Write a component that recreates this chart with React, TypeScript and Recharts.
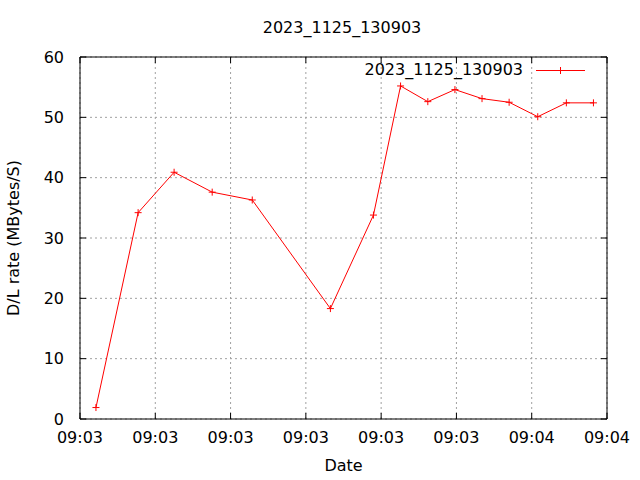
import React from 'react';
import { LineChart, Line, XAxis, YAxis, CartesianGrid } from 'recharts';

const seriesName = '2023_1125_130903';
const chartTitle = '2023_1125_130903';
const xLabel = 'Date';
const yLabel = 'D/L rate (MBytes/S)';
// seconds after 09:03:30
const startSeconds = 9 * 3600 + 3 * 60 + 30;
const timeOffsets = [1.06, 3.86, 6.25, 8.78, 11.44, 16.63, 19.49, 21.29, 23.1, 24.9, 26.7, 28.5, 30.4, 32.3, 34.1];
const rates = [1.9, 34.2, 40.9, 37.6, 36.3, 18.3, 33.8, 55.2, 52.6, 54.6, 53.1, 52.5, 50.1, 52.4, 52.4];
const xTicks = [0, 5, 10, 15, 20, 25, 30, 35];
const yTicks = [0, 10, 20, 30, 40, 50, 60];

const data = timeOffsets.map((t, i) => ({ t, rate: rates[i] }));

const pad = (n: number) => (n < 10 ? '0' + n : '' + n);
const fmtTime = (s: number) => {
  const total = startSeconds + s;
  const hh = Math.floor(total / 3600);
  const mm = Math.floor((total % 3600) / 60);
  return pad(hh) + ':' + pad(mm);
};

const FONT = 'DejaVu Sans';
const RED = '#ff0000';

const emptyTick = () => <g />;

const PlusDot = (props: any) => {
  const { cx, cy } = props;
  if (cx == null || cy == null) return <g />;
  return (
    <path
      d={`M${cx - 3.5},${cy}H${cx + 3.5}M${cx},${cy - 3.5}V${cy + 3.5}`}
      stroke={RED}
      strokeWidth={1}
      fill="none"
    />
  );
};

const DateLabel = (props: any) => {
  const vb = props.viewBox || { x: 80, y: 419, width: 527, height: 61 };
  return (
    <text x={vb.x + vb.width / 2} y={vb.y + 52} textAnchor="middle" fontSize={16} fontFamily={FONT} fill="#000">
      {xLabel}
    </text>
  );
};

const RateLabel = (props: any) => {
  const vb = props.viewBox || { x: 0, y: 57, width: 80, height: 362 };
  const cx = vb.x + 19;
  const cy = vb.y + vb.height / 2;
  return (
    <text x={cx} y={cy} transform={`rotate(-90 ${cx} ${cy})`} textAnchor="middle" fontSize={16} fontFamily={FONT} fill="#000">
      {yLabel}
    </text>
  );
};

export default function App() {
  return (
    <div style={{ position: 'absolute', left: 0, top: 0, width: 640, height: 480, background: '#fff' }}>
      <LineChart
        width={640}
        height={480}
        data={data}
        margin={{ top: 56, right: 32, bottom: 0, left: 0 }}
        style={{ fontFamily: FONT }}
      >
        <CartesianGrid stroke="#a0a0a0" strokeDasharray="2 3" />
        <XAxis
          dataKey="t"
          type="number"
          domain={[0, 35]}
          ticks={xTicks}
          interval={0}
          tickFormatter={fmtTime}
          height={61}
          tickSize={-6}
          tickMargin={19}
          axisLine={{ stroke: '#000' }}
          tickLine={{ stroke: '#000' }}
          tick={{ fill: '#000', fontSize: 16, fontFamily: FONT }}
          label={{ content: DateLabel }}
          allowDataOverflow
        />
        <XAxis
          xAxisId="top"
          orientation="top"
          dataKey="t"
          type="number"
          domain={[0, 35]}
          ticks={xTicks}
          interval={0}
          height={1}
          tickSize={-6}
          axisLine={{ stroke: '#000' }}
          tickLine={{ stroke: '#000' }}
          tick={emptyTick}
          allowDataOverflow
        />
        <YAxis
          type="number"
          domain={[0, 60]}
          ticks={yTicks}
          interval={0}
          width={80}
          tickSize={-6}
          tickMargin={22}
          axisLine={{ stroke: '#000' }}
          tickLine={{ stroke: '#000' }}
          tick={{ fill: '#000', fontSize: 16, fontFamily: FONT }}
          label={{ content: RateLabel }}
          allowDataOverflow
        />
        <YAxis
          yAxisId="right"
          orientation="right"
          type="number"
          domain={[0, 60]}
          ticks={yTicks}
          interval={0}
          width={1}
          tickSize={-6}
          axisLine={{ stroke: '#000' }}
          tickLine={{ stroke: '#000' }}
          tick={emptyTick}
          allowDataOverflow
        />
        <Line
          type="linear"
          dataKey="rate"
          name={seriesName}
          stroke={RED}
          strokeWidth={1}
          dot={<PlusDot />}
          activeDot={false}
          isAnimationActive={false}
        />
      </LineChart>
      <svg
        width={640}
        height={480}
        style={{ position: 'absolute', left: 0, top: 0, pointerEvents: 'none' }}
      >
        <text x={342} y={33} textAnchor="middle" fontSize={16} fontFamily={FONT} fill="#000">
          {chartTitle}
        </text>
        <text x={523} y={75} textAnchor="end" fontSize={16} fontFamily={FONT} fill="#000">
          {seriesName}
        </text>
        <line x1={536} y1={70.5} x2={585} y2={70.5} stroke={RED} strokeWidth={1} />
        <path d="M560.5,67V74M557,70.5H564" stroke={RED} strokeWidth={1} fill="none" />
      </svg>
    </div>
  );
}
